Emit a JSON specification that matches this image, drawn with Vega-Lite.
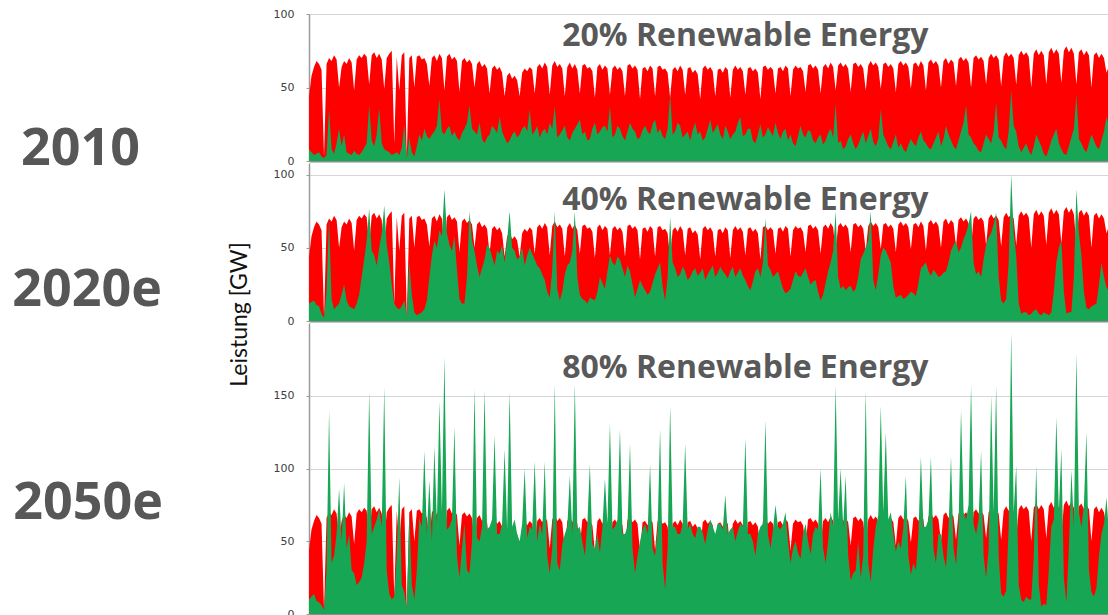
{
  "$schema": "https://vega.github.io/schema/vega-lite/v6.json",
  "background": "white",
  "padding": {"left": 12, "top": 8, "right": 0, "bottom": 0},
  "bounds": "flush",
  "spacing": 2,
  "datasets": {
    "energy": [
      {"t":0,"load":44,"g1":8,"g2":12,"g3":10},{"t":1,"load":58,"g1":6,"g2":13,"g3":12},
      {"t":2,"load":64,"g1":4,"g2":14,"g3":14},{"t":3,"load":68,"g1":5,"g2":11,"g3":9},
      {"t":4,"load":66,"g1":6,"g2":10,"g3":8},{"t":5,"load":62,"g1":3,"g2":5,"g3":6},
      {"t":6,"load":3,"g1":2,"g2":2,"g3":3},{"t":7,"load":66,"g1":4,"g2":20,"g3":30},
      {"t":8,"load":70,"g1":35,"g2":69,"g3":140},{"t":9,"load":68,"g1":8,"g2":15,"g3":35},
      {"t":10,"load":72,"g1":5,"g2":8,"g3":40},{"t":11,"load":69,"g1":12,"g2":10,"g3":55},
      {"t":12,"load":50,"g1":22,"g2":12,"g3":86},{"t":13,"load":64,"g1":10,"g2":18,"g3":50},
      {"t":14,"load":68,"g1":18,"g2":25,"g3":90},{"t":15,"load":66,"g1":6,"g2":14,"g3":45},
      {"t":16,"load":70,"g1":5,"g2":10,"g3":55},{"t":17,"load":67,"g1":4,"g2":9,"g3":30},
      {"t":18,"load":48,"g1":7,"g2":8,"g3":28},{"t":19,"load":69,"g1":5,"g2":12,"g3":20},
      {"t":20,"load":72,"g1":4,"g2":18,"g3":22},{"t":21,"load":70,"g1":6,"g2":30,"g3":25},
      {"t":22,"load":73,"g1":9,"g2":42,"g3":35},{"t":23,"load":71,"g1":12,"g2":55,"g3":50},
      {"t":24,"load":52,"g1":38,"g2":77,"g3":153},{"t":25,"load":72,"g1":14,"g2":48,"g3":55},
      {"t":26,"load":74,"g1":10,"g2":45,"g3":60},{"t":27,"load":70,"g1":18,"g2":38,"g3":65},
      {"t":28,"load":73,"g1":36,"g2":50,"g3":72},{"t":29,"load":69,"g1":12,"g2":60,"g3":60},
      {"t":30,"load":49,"g1":8,"g2":79,"g3":156},{"t":31,"load":70,"g1":7,"g2":52,"g3":30},
      {"t":32,"load":73,"g1":6,"g2":40,"g3":14},{"t":33,"load":75,"g1":4,"g2":25,"g3":10},
      {"t":34,"load":12,"g1":5,"g2":12,"g3":12},{"t":35,"load":71,"g1":6,"g2":9,"g3":40},
      {"t":36,"load":48,"g1":4,"g2":8,"g3":94},{"t":37,"load":72,"g1":9,"g2":10,"g3":20},
      {"t":38,"load":74,"g1":25,"g2":14,"g3":15},{"t":39,"load":3,"g1":2,"g2":3,"g3":4},
      {"t":40,"load":70,"g1":16,"g2":40,"g3":70},{"t":41,"load":72,"g1":6,"g2":18,"g3":20},
      {"t":42,"load":50,"g1":3,"g2":6,"g3":10},{"t":43,"load":71,"g1":10,"g2":4,"g3":30},
      {"t":44,"load":72,"g1":18,"g2":5,"g3":66},{"t":45,"load":69,"g1":14,"g2":6,"g3":60},
      {"t":46,"load":70,"g1":22,"g2":8,"g3":112},{"t":47,"load":66,"g1":17,"g2":14,"g3":55},
      {"t":48,"load":51,"g1":15,"g2":30,"g3":92},{"t":49,"load":70,"g1":18,"g2":45,"g3":50},
      {"t":50,"load":72,"g1":20,"g2":55,"g3":115},{"t":51,"load":68,"g1":24,"g2":50,"g3":62},
      {"t":52,"load":73,"g1":42,"g2":62,"g3":146},{"t":53,"load":70,"g1":20,"g2":58,"g3":70},
      {"t":54,"load":48,"g1":18,"g2":90,"g3":177},{"t":55,"load":71,"g1":22,"g2":60,"g3":58},
      {"t":56,"load":73,"g1":24,"g2":52,"g3":60},{"t":57,"load":69,"g1":17,"g2":48,"g3":65},
      {"t":58,"load":71,"g1":20,"g2":58,"g3":129},{"t":59,"load":68,"g1":16,"g2":35,"g3":40},
      {"t":60,"load":47,"g1":14,"g2":15,"g3":25},{"t":61,"load":68,"g1":19,"g2":12,"g3":45},
      {"t":62,"load":70,"g1":22,"g2":12,"g3":62},{"t":63,"load":67,"g1":26,"g2":30,"g3":30},
      {"t":64,"load":69,"g1":38,"g2":75,"g3":28},{"t":65,"load":66,"g1":22,"g2":55,"g3":50},
      {"t":66,"load":50,"g1":20,"g2":48,"g3":155},{"t":67,"load":66,"g1":18,"g2":38,"g3":52},
      {"t":68,"load":68,"g1":26,"g2":30,"g3":50},{"t":69,"load":64,"g1":15,"g2":36,"g3":60},
      {"t":70,"load":66,"g1":12,"g2":42,"g3":154},{"t":71,"load":63,"g1":16,"g2":52,"g3":58},
      {"t":72,"load":46,"g1":18,"g2":50,"g3":60},{"t":73,"load":63,"g1":24,"g2":44,"g3":65},
      {"t":74,"load":65,"g1":22,"g2":38,"g3":123},{"t":75,"load":62,"g1":19,"g2":48,"g3":55},
      {"t":76,"load":64,"g1":30,"g2":46,"g3":55},{"t":77,"load":60,"g1":20,"g2":52,"g3":62},
      {"t":78,"load":44,"g1":16,"g2":40,"g3":113},{"t":79,"load":58,"g1":12,"g2":55,"g3":58},
      {"t":80,"load":60,"g1":14,"g2":75,"g3":153},{"t":81,"load":56,"g1":18,"g2":50,"g3":60},
      {"t":82,"load":58,"g1":20,"g2":48,"g3":65},{"t":83,"load":55,"g1":16,"g2":42,"g3":55},
      {"t":84,"load":44,"g1":18,"g2":44,"g3":50},{"t":85,"load":60,"g1":22,"g2":50,"g3":62},
      {"t":86,"load":63,"g1":24,"g2":38,"g3":100},{"t":87,"load":61,"g1":20,"g2":45,"g3":52},
      {"t":88,"load":64,"g1":35,"g2":50,"g3":60},{"t":89,"load":62,"g1":18,"g2":46,"g3":58},
      {"t":90,"load":46,"g1":20,"g2":42,"g3":105},{"t":91,"load":64,"g1":24,"g2":38,"g3":50},
      {"t":92,"load":66,"g1":16,"g2":36,"g3":62},{"t":93,"load":63,"g1":20,"g2":32,"g3":55},
      {"t":94,"load":67,"g1":22,"g2":28,"g3":105},{"t":95,"load":64,"g1":18,"g2":20,"g3":40},
      {"t":96,"load":45,"g1":26,"g2":16,"g3":28},{"t":97,"load":65,"g1":22,"g2":35,"g3":45},
      {"t":98,"load":68,"g1":37,"g2":75,"g3":158},{"t":99,"load":64,"g1":16,"g2":22,"g3":35},
      {"t":100,"load":66,"g1":18,"g2":14,"g3":30},{"t":101,"load":63,"g1":21,"g2":20,"g3":48},
      {"t":102,"load":44,"g1":24,"g2":32,"g3":55},{"t":103,"load":64,"g1":16,"g2":38,"g3":60},
      {"t":104,"load":67,"g1":14,"g2":40,"g3":95},{"t":105,"load":63,"g1":19,"g2":48,"g3":55},
      {"t":106,"load":66,"g1":22,"g2":75,"g3":158},{"t":107,"load":62,"g1":25,"g2":30,"g3":58},
      {"t":108,"load":46,"g1":28,"g2":18,"g3":60},{"t":109,"load":65,"g1":18,"g2":15,"g3":50},
      {"t":110,"load":66,"g1":20,"g2":14,"g3":40},{"t":111,"load":63,"g1":14,"g2":12,"g3":62},
      {"t":112,"load":64,"g1":15,"g2":16,"g3":103},{"t":113,"load":61,"g1":22,"g2":15,"g3":48},
      {"t":114,"load":43,"g1":26,"g2":14,"g3":45},{"t":115,"load":64,"g1":18,"g2":20,"g3":55},
      {"t":116,"load":66,"g1":20,"g2":30,"g3":42},{"t":117,"load":62,"g1":23,"g2":26,"g3":60},
      {"t":118,"load":65,"g1":24,"g2":22,"g3":93},{"t":119,"load":63,"g1":20,"g2":34,"g3":62},
      {"t":120,"load":45,"g1":37,"g2":45,"g3":131},{"t":121,"load":63,"g1":16,"g2":40,"g3":58},
      {"t":122,"load":65,"g1":18,"g2":38,"g3":60},{"t":123,"load":62,"g1":24,"g2":44,"g3":65},
      {"t":124,"load":64,"g1":22,"g2":42,"g3":127},{"t":125,"load":61,"g1":17,"g2":36,"g3":55},
      {"t":126,"load":44,"g1":14,"g2":30,"g3":55},{"t":127,"load":65,"g1":20,"g2":38,"g3":60},
      {"t":128,"load":66,"g1":26,"g2":34,"g3":117},{"t":129,"load":63,"g1":22,"g2":25,"g3":45},
      {"t":130,"load":65,"g1":20,"g2":16,"g3":28},{"t":131,"load":62,"g1":15,"g2":22,"g3":40},
      {"t":132,"load":42,"g1":16,"g2":28,"g3":50},{"t":133,"load":63,"g1":21,"g2":24,"g3":58},
      {"t":134,"load":64,"g1":24,"g2":21,"g3":62},{"t":135,"load":61,"g1":20,"g2":18,"g3":55},
      {"t":136,"load":65,"g1":18,"g2":20,"g3":103},{"t":137,"load":63,"g1":25,"g2":26,"g3":45},
      {"t":138,"load":44,"g1":28,"g2":32,"g3":40},{"t":139,"load":64,"g1":19,"g2":36,"g3":58},
      {"t":140,"load":65,"g1":22,"g2":40,"g3":127},{"t":141,"load":62,"g1":17,"g2":24,"g3":35},
      {"t":142,"load":63,"g1":15,"g2":14,"g3":17},{"t":143,"load":60,"g1":22,"g2":30,"g3":45},
      {"t":144,"load":43,"g1":45,"g2":71,"g3":143},{"t":145,"load":62,"g1":18,"g2":40,"g3":60},
      {"t":146,"load":64,"g1":20,"g2":36,"g3":60},{"t":147,"load":61,"g1":26,"g2":30,"g3":55},
      {"t":148,"load":65,"g1":24,"g2":32,"g3":55},{"t":149,"load":62,"g1":16,"g2":37,"g3":62},
      {"t":150,"load":45,"g1":18,"g2":34,"g3":117},{"t":151,"load":63,"g1":20,"g2":28,"g3":58},
      {"t":152,"load":64,"g1":14,"g2":30,"g3":62},{"t":153,"load":60,"g1":21,"g2":34,"g3":55},
      {"t":154,"load":62,"g1":26,"g2":36,"g3":52},{"t":155,"load":59,"g1":18,"g2":31,"g3":60},
      {"t":156,"load":42,"g1":20,"g2":33,"g3":60},{"t":157,"load":63,"g1":14,"g2":36,"g3":56},
      {"t":158,"load":65,"g1":16,"g2":28,"g3":48},{"t":159,"load":62,"g1":22,"g2":32,"g3":58},
      {"t":160,"load":64,"g1":28,"g2":35,"g3":65},{"t":161,"load":61,"g1":19,"g2":38,"g3":60},
      {"t":162,"load":44,"g1":22,"g2":30,"g3":55},{"t":163,"load":62,"g1":25,"g2":33,"g3":62},
      {"t":164,"load":63,"g1":18,"g2":37,"g3":62},{"t":165,"load":60,"g1":15,"g2":34,"g3":58},
      {"t":166,"load":64,"g1":24,"g2":32,"g3":82},{"t":167,"load":62,"g1":20,"g2":29,"g3":55},
      {"t":168,"load":43,"g1":15,"g2":34,"g3":58},{"t":169,"load":62,"g1":18,"g2":37,"g3":60},
      {"t":170,"load":65,"g1":20,"g2":30,"g3":50},{"t":171,"load":62,"g1":26,"g2":33,"g3":57},
      {"t":172,"load":64,"g1":30,"g2":36,"g3":62},{"t":173,"load":61,"g1":17,"g2":31,"g3":60},
      {"t":174,"load":45,"g1":18,"g2":28,"g3":121},{"t":175,"load":63,"g1":22,"g2":24,"g3":55},
      {"t":176,"load":64,"g1":22,"g2":21,"g3":55},{"t":177,"load":61,"g1":14,"g2":27,"g3":50},
      {"t":178,"load":63,"g1":12,"g2":34,"g3":40},{"t":179,"load":60,"g1":18,"g2":36,"g3":55},
      {"t":180,"load":42,"g1":25,"g2":30,"g3":60},{"t":181,"load":64,"g1":16,"g2":40,"g3":62},
      {"t":182,"load":65,"g1":18,"g2":70,"g3":133},{"t":183,"load":62,"g1":23,"g2":38,"g3":55},
      {"t":184,"load":64,"g1":20,"g2":35,"g3":45},{"t":185,"load":62,"g1":17,"g2":30,"g3":58},
      {"t":186,"load":46,"g1":26,"g2":32,"g3":75},{"t":187,"load":63,"g1":19,"g2":34,"g3":60},
      {"t":188,"load":64,"g1":15,"g2":28,"g3":58},{"t":189,"load":61,"g1":20,"g2":22,"g3":62},
      {"t":190,"load":65,"g1":22,"g2":19,"g3":70},{"t":191,"load":63,"g1":14,"g2":20,"g3":50},
      {"t":192,"load":44,"g1":18,"g2":22,"g3":35},{"t":193,"load":62,"g1":12,"g2":28,"g3":45},
      {"t":194,"load":65,"g1":10,"g2":34,"g3":50},{"t":195,"load":63,"g1":17,"g2":31,"g3":42},
      {"t":196,"load":64,"g1":24,"g2":30,"g3":38},{"t":197,"load":61,"g1":18,"g2":33,"g3":55},
      {"t":198,"load":47,"g1":16,"g2":36,"g3":62},{"t":199,"load":65,"g1":21,"g2":30,"g3":50},
      {"t":200,"load":66,"g1":20,"g2":25,"g3":41},{"t":201,"load":63,"g1":14,"g2":27,"g3":55},
      {"t":202,"load":65,"g1":12,"g2":28,"g3":60},{"t":203,"load":62,"g1":16,"g2":20,"g3":58},
      {"t":204,"load":46,"g1":18,"g2":14,"g3":100},{"t":205,"load":64,"g1":11,"g2":18,"g3":45},
      {"t":206,"load":66,"g1":14,"g2":26,"g3":35},{"t":207,"load":63,"g1":19,"g2":34,"g3":50},
      {"t":208,"load":67,"g1":22,"g2":40,"g3":70},{"t":209,"load":64,"g1":16,"g2":48,"g3":60},
      {"t":210,"load":48,"g1":39,"g2":75,"g3":157},{"t":211,"load":65,"g1":12,"g2":30,"g3":65},
      {"t":212,"load":67,"g1":14,"g2":22,"g3":100},{"t":213,"load":64,"g1":8,"g2":24,"g3":60},
      {"t":214,"load":66,"g1":10,"g2":21,"g3":95},{"t":215,"load":63,"g1":15,"g2":23,"g3":40},
      {"t":216,"load":47,"g1":18,"g2":24,"g3":23},{"t":217,"load":66,"g1":12,"g2":20,"g3":28},
      {"t":218,"load":67,"g1":8,"g2":22,"g3":30},{"t":219,"load":64,"g1":11,"g2":30,"g3":50},
      {"t":220,"load":66,"g1":16,"g2":42,"g3":25},{"t":221,"load":63,"g1":20,"g2":46,"g3":40},
      {"t":222,"load":48,"g1":12,"g2":50,"g3":154},{"t":223,"load":65,"g1":17,"g2":55,"g3":35},
      {"t":224,"load":68,"g1":22,"g2":75,"g3":22},{"t":225,"load":65,"g1":13,"g2":28,"g3":45},
      {"t":226,"load":67,"g1":10,"g2":21,"g3":60},{"t":227,"load":64,"g1":15,"g2":32,"g3":68},
      {"t":228,"load":49,"g1":35,"g2":45,"g3":143},{"t":229,"load":66,"g1":18,"g2":50,"g3":70},
      {"t":230,"load":67,"g1":14,"g2":48,"g3":125},{"t":231,"load":64,"g1":10,"g2":44,"g3":65},
      {"t":232,"load":66,"g1":8,"g2":40,"g3":70},{"t":233,"load":63,"g1":13,"g2":24,"g3":55},
      {"t":234,"load":47,"g1":18,"g2":16,"g3":43},{"t":235,"load":66,"g1":9,"g2":17,"g3":50},
      {"t":236,"load":68,"g1":12,"g2":18,"g3":45},{"t":237,"load":65,"g1":8,"g2":15,"g3":60},
      {"t":238,"load":67,"g1":6,"g2":16,"g3":95},{"t":239,"load":64,"g1":11,"g2":18,"g3":40},
      {"t":240,"load":49,"g1":15,"g2":20,"g3":27},{"t":241,"load":66,"g1":12,"g2":19,"g3":35},
      {"t":242,"load":67,"g1":10,"g2":17,"g3":30},{"t":243,"load":64,"g1":16,"g2":26,"g3":55},
      {"t":244,"load":68,"g1":20,"g2":36,"g3":108},{"t":245,"load":65,"g1":14,"g2":38,"g3":60},
      {"t":246,"load":48,"g1":12,"g2":40,"g3":60},{"t":247,"load":67,"g1":9,"g2":34,"g3":65},
      {"t":248,"load":69,"g1":8,"g2":31,"g3":108},{"t":249,"load":66,"g1":12,"g2":35,"g3":45},
      {"t":250,"load":68,"g1":16,"g2":33,"g3":35},{"t":251,"load":65,"g1":20,"g2":30,"g3":55},
      {"t":252,"load":50,"g1":10,"g2":31,"g3":55},{"t":253,"load":68,"g1":15,"g2":33,"g3":40},
      {"t":254,"load":70,"g1":24,"g2":34,"g3":32},{"t":255,"load":66,"g1":18,"g2":40,"g3":58},
      {"t":256,"load":69,"g1":14,"g2":48,"g3":108},{"t":257,"load":67,"g1":10,"g2":52,"g3":45},
      {"t":258,"load":51,"g1":8,"g2":55,"g3":34},{"t":259,"load":69,"g1":14,"g2":47,"g3":60},
      {"t":260,"load":71,"g1":20,"g2":50,"g3":140},{"t":261,"load":68,"g1":26,"g2":56,"g3":70},
      {"t":262,"load":70,"g1":38,"g2":60,"g3":65},{"t":263,"load":67,"g1":18,"g2":66,"g3":75},
      {"t":264,"load":50,"g1":16,"g2":75,"g3":157},{"t":265,"load":70,"g1":12,"g2":40,"g3":62},
      {"t":266,"load":72,"g1":10,"g2":32,"g3":55},{"t":267,"load":69,"g1":7,"g2":34,"g3":65},
      {"t":268,"load":71,"g1":6,"g2":30,"g3":112},{"t":269,"load":68,"g1":12,"g2":42,"g3":40},
      {"t":270,"load":52,"g1":18,"g2":52,"g3":25},{"t":271,"load":70,"g1":15,"g2":57,"g3":45},
      {"t":272,"load":73,"g1":12,"g2":60,"g3":150},{"t":273,"load":70,"g1":20,"g2":66,"g3":70},
      {"t":274,"load":72,"g1":40,"g2":74,"g3":157},{"t":275,"load":69,"g1":16,"g2":30,"g3":40},
      {"t":276,"load":51,"g1":14,"g2":14,"g3":14},{"t":277,"load":71,"g1":10,"g2":12,"g3":12},
      {"t":278,"load":74,"g1":8,"g2":15,"g3":16},{"t":279,"load":71,"g1":20,"g2":40,"g3":60},
      {"t":280,"load":73,"g1":48,"g2":100,"g3":194},{"t":281,"load":70,"g1":24,"g2":60,"g3":70},
      {"t":282,"load":52,"g1":20,"g2":45,"g3":102},{"t":283,"load":72,"g1":10,"g2":12,"g3":20},
      {"t":284,"load":75,"g1":6,"g2":5,"g3":10},{"t":285,"load":72,"g1":9,"g2":6,"g3":8},
      {"t":286,"load":74,"g1":12,"g2":6,"g3":12},{"t":287,"load":71,"g1":7,"g2":4,"g3":10},
      {"t":288,"load":50,"g1":4,"g2":5,"g3":10},{"t":289,"load":73,"g1":10,"g2":7,"g3":40},
      {"t":290,"load":76,"g1":18,"g2":8,"g3":102},{"t":291,"load":72,"g1":14,"g2":5,"g3":20},
      {"t":292,"load":75,"g1":10,"g2":4,"g3":5},{"t":293,"load":72,"g1":5,"g2":6,"g3":7},
      {"t":294,"load":52,"g1":3,"g2":5,"g3":6},{"t":295,"load":74,"g1":8,"g2":4,"g3":30},
      {"t":296,"load":77,"g1":14,"g2":6,"g3":60},{"t":297,"load":73,"g1":18,"g2":20,"g3":65},
      {"t":298,"load":76,"g1":22,"g2":40,"g3":135},{"t":299,"load":73,"g1":12,"g2":50,"g3":70},
      {"t":300,"load":53,"g1":8,"g2":55,"g3":113},{"t":301,"load":75,"g1":5,"g2":20,"g3":25},
      {"t":302,"load":78,"g1":4,"g2":5,"g3":8},{"t":303,"load":74,"g1":10,"g2":6,"g3":45},
      {"t":304,"load":77,"g1":16,"g2":6,"g3":99},{"t":305,"load":73,"g1":22,"g2":30,"g3":60},
      {"t":306,"load":52,"g1":45,"g2":90,"g3":179},{"t":307,"load":74,"g1":15,"g2":60,"g3":70},
      {"t":308,"load":76,"g1":12,"g2":45,"g3":60},{"t":309,"load":72,"g1":8,"g2":20,"g3":75},
      {"t":310,"load":75,"g1":6,"g2":9,"g3":125},{"t":311,"load":72,"g1":12,"g2":8,"g3":30},
      {"t":312,"load":50,"g1":18,"g2":10,"g3":15},{"t":313,"load":72,"g1":14,"g2":11,"g3":12},
      {"t":314,"load":74,"g1":10,"g2":12,"g3":18},{"t":315,"load":70,"g1":8,"g2":25,"g3":40},
      {"t":316,"load":73,"g1":14,"g2":40,"g3":55},{"t":317,"load":70,"g1":20,"g2":30,"g3":62},
      {"t":318,"load":60,"g1":30,"g2":23,"g3":80},{"t":319,"load":65,"g1":24,"g2":20,"g3":55}
    ]
  },
  "data": {"name": "energy"},
  "vconcat": [
    {
      "width": 800,
      "height": 147,
      "title": {"text": "2010", "orient": "left", "angle": 0, "align": "left", "baseline": "middle", "anchor": "middle", "frame": "group", "offset": 133, "dy": 61},
      "layer": [
        {
          "mark": {"type": "area", "color": "#ff0000"},
          "encoding": {
            "x": {"field": "t", "type": "quantitative", "title": null, "scale": {"domain": [0, 319], "nice": false, "zero": false}},
            "y": {"field": "load", "type": "quantitative", "title": null, "scale": {"domain": [0, 100], "nice": false}, "axis": {"values": [0, 50, 100]}}
          }
        },
        {
          "mark": {"type": "area", "color": "#17a653"},
          "encoding": {
            "x": {"field": "t", "type": "quantitative", "title": null},
            "y": {"field": "g1", "type": "quantitative", "title": null}
          }
        },
        {
          "data": {"values": [{"label": "20% Renewable Energy"}]},
          "mark": {"type": "text", "font": "Open Sans", "fontSize": 32, "fontWeight": "bold", "color": "#595959", "baseline": "alphabetic", "align": "center"},
          "encoding": {"x": {"datum": 174}, "y": {"datum": 78}, "text": {"field": "label"}}
        }
      ]
    },
    {
      "width": 800,
      "height": 158,
      "title": {"text": "2020e", "orient": "left", "angle": 0, "align": "left", "baseline": "middle", "anchor": "middle", "frame": "group", "offset": 111, "dy": 48},
      "layer": [
        {
          "mark": {"type": "area", "color": "#ff0000"},
          "encoding": {
            "x": {"field": "t", "type": "quantitative", "title": null, "scale": {"domain": [0, 319], "nice": false, "zero": false}},
            "y": {"field": "load", "type": "quantitative", "title": null, "scale": {"domain": [0, 108], "nice": false}, "axis": {"values": [0, 50, 100]}}
          }
        },
        {
          "mark": {"type": "area", "color": "#17a653"},
          "encoding": {
            "x": {"field": "t", "type": "quantitative", "title": null},
            "y": {"field": "g2", "type": "quantitative", "title": null}
          }
        },
        {
          "data": {"values": [{"label": "40% Renewable Energy"}]},
          "mark": {"type": "text", "font": "Open Sans", "fontSize": 32, "fontWeight": "bold", "color": "#595959", "baseline": "alphabetic", "align": "center"},
          "encoding": {"x": {"datum": 174}, "y": {"datum": 76}, "text": {"field": "label"}}
        }
      ]
    },
    {
      "width": 800,
      "height": 291,
      "title": {"text": "2050e", "orient": "left", "angle": 0, "align": "left", "baseline": "middle", "anchor": "middle", "frame": "group", "offset": 65, "dy": 34},
      "layer": [
        {
          "mark": {"type": "area", "color": "#ff0000"},
          "encoding": {
            "x": {"field": "t", "type": "quantitative", "title": null, "scale": {"domain": [0, 319], "nice": false, "zero": false}},
            "y": {
              "field": "load", "type": "quantitative", "title": "Leistung [GW]",
              "scale": {"domain": [0, 200], "nice": false},
              "axis": {"values": [0, 50, 100, 150], "titleFont": "Lato", "titleFontSize": 23, "titleFontWeight": "normal", "titleColor": "#111111", "titleAngle": 270, "titleX": -63, "titleY": -9, "titleAlign": "center", "titleBaseline": "alphabetic"}
            }
          }
        },
        {
          "mark": {"type": "area", "color": "#17a653"},
          "encoding": {
            "x": {"field": "t", "type": "quantitative", "title": null},
            "y": {"field": "g3", "type": "quantitative", "title": "Leistung [GW]"}
          }
        },
        {
          "data": {"values": [{"label": "80% Renewable Energy"}]},
          "mark": {"type": "text", "font": "Open Sans", "fontSize": 32, "fontWeight": "bold", "color": "#595959", "baseline": "alphabetic", "align": "center"},
          "encoding": {"x": {"datum": 174}, "y": {"datum": 162}, "text": {"field": "label"}}
        }
      ]
    }
  ],
  "config": {
    "view": {"stroke": null},
    "font": "Open Sans",
    "axis": {"grid": false, "labelFont": "DejaVu Sans", "labelFontSize": 11, "labelColor": "#404040", "domainColor": "#9a9a9a", "tickColor": "#9a9a9a", "tickSize": 3, "labelPadding": 12},
    "axisY": {"grid": true, "gridColor": "#d6d6d6", "domainWidth": 1.5},
    "axisX": {"labels": false, "ticks": false, "grid": false, "domainWidth": 2, "domainColor": "#8c8c8c"},
    "title": {"font": "Open Sans", "fontSize": 52, "fontWeight": "bold", "color": "#575757"}
  }
}
